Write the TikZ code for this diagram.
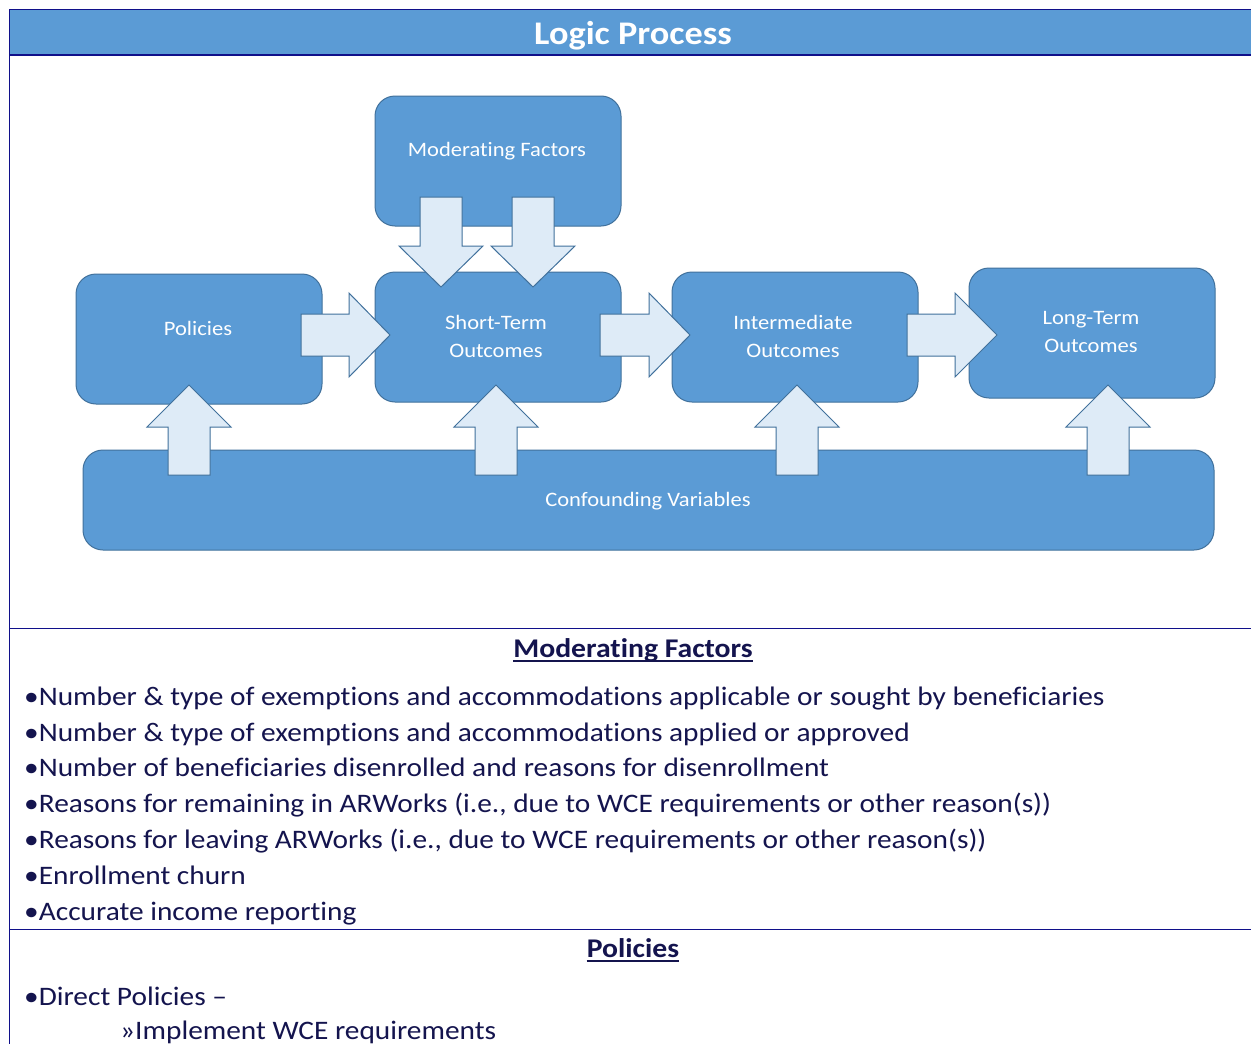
\documentclass[tikz,border=0pt]{standalone}
\usepackage{fontspec}
\setmainfont{Carlito}[FakeStretch=1.1,Ligatures={NoCommon}]
\definecolor{boxfill}{HTML}{5B9BD5}
\definecolor{boxline}{HTML}{41719C}
\definecolor{arrfill}{HTML}{DEEBF7}
\definecolor{arrline}{HTML}{41719C}
\definecolor{rule}{HTML}{10108A}
\definecolor{txt}{HTML}{14144E}
\begin{document}
\begin{tikzpicture}[x=1pt,y=-1pt,
  procbox/.style={draw=boxline,line width=1pt,fill=boxfill,rounded corners=20pt},
  boxtext/.style={text=white,font=\fontsize{20.5}{28}\selectfont,align=center,inner sep=0pt},
  blockarrow/.style={draw=arrline,line width=1pt,fill=arrfill,line join=miter},
  bullettext/.style={text=txt,font=\fontsize{26.7}{30}\selectfont,anchor=base west,inner sep=0pt},
  headtext/.style={text=txt,font=\fontsize{27}{30}\selectfont\bfseries,anchor=base,inner sep=0pt},
  ruleline/.style={draw=rule,line width=1.2pt}]
\useasboundingbox (0,0) rectangle (1251,1044);
\fill[white] (0,0) rectangle (1251,1044);
% header
\filldraw[fill=boxfill,draw=rule,line width=1.2pt] (9.5,9.5) rectangle (1260,55);
\node[text=white,font=\fontsize{33}{36}\selectfont\bfseries,anchor=base,inner sep=0pt] (title) at (633,44) {Logic Process};
\draw[ruleline] (9.5,9.5) -- (9.5,1050);
\draw[ruleline] (9.5,628.5) -- (1260,628.5);
\draw[ruleline] (9.5,929.5) -- (1260,929.5);
% boxes
\draw[procbox] (375,96) rectangle (621,226);
\draw[procbox] (76,274) rectangle (322,404);
\draw[procbox] (375,272) rectangle (621,402);
\draw[procbox] (672,272) rectangle (918,402);
\draw[procbox] (969,268) rectangle (1215,398);
\draw[procbox] (83,450) rectangle (1214,550);
\node[boxtext] (mf) at (497,151) {Moderating Factors};
\node[boxtext] (pol) at (198,328) {Policies};
\node[boxtext] (st) at (496,336) {Short-Term\\Outcomes};
\node[boxtext] (io) at (793,336) {Intermediate\\Outcomes};
\node[boxtext] (lt) at (1091,332) {Long-Term\\Outcomes};
\node[boxtext] (cv) at (648,501) {Confounding Variables};
% right arrows: x0, xb, xt, yc
\foreach \xa/\xb/\xt/\yc in {301/349/390/335, 600/649/690/335, 907/955/997/335}{
  \draw[blockarrow] (\xa,\yc-21) -- (\xb,\yc-21) -- (\xb,\yc-42) -- (\xt,\yc) -- (\xb,\yc+42) -- (\xb,\yc+21) -- (\xa,\yc+21) -- cycle;
}
% down arrows
\foreach \xc in {441,533}{
  \draw[blockarrow] (\xc-21,197) -- (\xc+21,197) -- (\xc+21,246) -- (\xc+42,246) -- (\xc,287) -- (\xc-42,246) -- (\xc-21,246) -- cycle;
}
% up arrows
\foreach \xc in {189,496,797,1108}{
  \draw[blockarrow] (\xc-21,475) -- (\xc+21,475) -- (\xc+21,427) -- (\xc+42,427) -- (\xc,385) -- (\xc-42,427) -- (\xc-21,427) -- cycle;
}
% lower text
\node[headtext] (h1) at (633,657) {Moderating Factors};
\draw[txt,line width=1.6pt] ([yshift=-4pt]h1.base west) -- ([yshift=-4pt]h1.base east);
\node[bullettext] (b1) at (24,705) {•Number \& type of exemptions and accommodations applicable or sought by beneficiaries};
\node[bullettext] (b2) at (24,741) {•Number \& type of exemptions and accommodations applied or approved};
\node[bullettext] (b3) at (24,776) {•Number of beneficiaries disenrolled and reasons for disenrollment};
\node[bullettext] (b4) at (24,812) {•Reasons for remaining in ARWorks (i.e., due to WCE requirements or other reason(s))};
\node[bullettext] (b5) at (24,848) {•Reasons for leaving ARWorks (i.e., due to WCE requirements or other reason(s))};
\node[bullettext] (b6) at (24,884) {•Enrollment churn};
\node[bullettext] (b7) at (24,920) {•Accurate income reporting};
\node[headtext] (h2) at (633,957) {Policies};
\draw[txt,line width=1.6pt] ([yshift=-4pt]h2.base west) -- ([yshift=-4pt]h2.base east);
\node[bullettext] (p1) at (24,1005) {•Direct Policies –};
\node[bullettext] (p2) at (120,1039) {»Implement WCE requirements};
\end{tikzpicture}
\end{document}
